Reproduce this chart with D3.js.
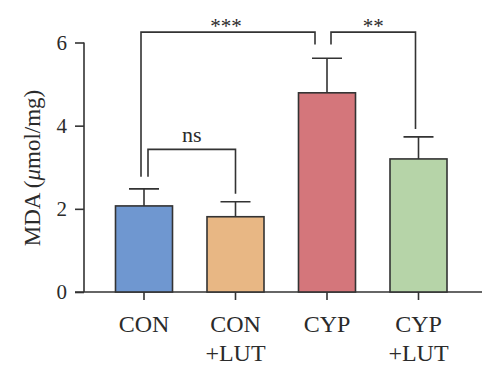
<!DOCTYPE html>
<html>
<head>
<meta charset="utf-8">
<script src="https://cdn.jsdelivr.net/npm/d3@7"></script>
<style>
  body { margin: 0; background: #fff; }
  text { font-family: "Liberation Serif", "DejaVu Serif", serif; fill: #2b2b2b; }
</style>
</head>
<body>
<div id="chart"></div>
<script>
// MDA levels per group, mean + SD (upper error only)
var groups = ["CON", "CON+LUT", "CYP", "CYP+LUT"];
var groupLines = [["CON"], ["CON", "+LUT"], ["CYP"], ["CYP", "+LUT"]];
var means = [2.07, 1.81, 4.79, 3.20];
var errors = [0.41, 0.36, 0.83, 0.53];
var barColors = ["#6f97d0", "#e8b784", "#d4767b", "#b6d4a8"];
var yTicks = [0, 2, 4, 6];

// significance brackets: [from group, to group, label, bracket height (data units)]
var brackets = [
	["CON", "CYP", "***", 6.25],
	["CON", "CON+LUT", "ns", 3.43],
	["CYP", "CYP+LUT", "**", 6.25]
];

var width = 500, height = 379;
var ink = "#333";

var svg = d3.select("#chart").append("svg")
	.attr("width", width)
	.attr("height", height);

var x = d3.scaleBand().domain(groups).range([98.25, 464.25]);
var y = d3.scaleLinear().domain([0, 6]).range([292, 42.5]);
var barW = x.bandwidth() * 0.623;
var capW = 30;

function cx(g) { return x(g) + x.bandwidth() / 2; }

// Y axis
var yAxis = svg.append("g")
	.attr("transform", "translate(84,0)")
	.call(d3.axisLeft(y).tickValues(yTicks).tickFormat(d3.format("d")).tickSize(9).tickPadding(8));
yAxis.select(".domain").attr("stroke", ink).attr("stroke-width", 1.6)
	.attr("d", "M0," + y(6) + "V" + y(0));
yAxis.selectAll(".tick line").attr("stroke", ink).attr("stroke-width", 1.6);
yAxis.selectAll(".tick text")
	.style("font-size", "21px")
	.attr("fill", "#2b2b2b");

// X axis baseline + ticks
svg.append("line")
	.attr("x1", 75).attr("x2", 482)
	.attr("y1", y(0)).attr("y2", y(0))
	.attr("stroke", ink).attr("stroke-width", 1.6);

svg.selectAll(".xtick")
	.data(groups)
	.enter()
	.append("line")
		.attr("class", "xtick")
		.attr("x1", function(d) { return cx(d); })
		.attr("x2", function(d) { return cx(d); })
		.attr("y1", y(0)).attr("y2", y(0) + 8)
		.attr("stroke", ink).attr("stroke-width", 1.6);

svg.selectAll(".xlabel")
	.data(groups)
	.enter()
	.append("text")
		.attr("class", "xlabel")
		.attr("x", function(d) { return cx(d); })
		.attr("y", 332)
		.style("font-size", "24px")
		.style("text-anchor", "middle")
		.each(function(d, i) {
			var t = d3.select(this);
			groupLines[i].forEach(function(line, j) {
				t.append("tspan")
					.attr("x", cx(d))
					.attr("dy", j == 0 ? 0 : 29)
					.text(line);
			});
		});

// Y label
var yLabel = svg.append("text")
	.attr("transform", "translate(40,168) rotate(-90)")
	.style("font-size", "23px")
	.style("text-anchor", "middle");
yLabel.append("tspan").text("MDA (");
yLabel.append("tspan").style("font-style", "italic").text("\u03bc");
yLabel.append("tspan").text("mol/mg)");

// Error bars (upper only), drawn under the bars
svg.selectAll(".err")
	.data(groups)
	.enter()
	.append("path")
		.attr("class", "err")
		.attr("d", function(d, i) {
			var top = y(means[i] + errors[i]);
			return "M" + cx(d) + "," + y(means[i]) + "V" + top +
				"M" + (cx(d) - capW / 2) + "," + top + "H" + (cx(d) + capW / 2);
		})
		.attr("fill", "none")
		.attr("stroke", ink).attr("stroke-width", 1.6);

// Bars
svg.selectAll(".bar")
	.data(groups)
	.enter()
	.append("rect")
		.attr("class", "bar")
		.attr("x", function(d) { return cx(d) - barW / 2; })
		.attr("y", function(d, i) { return y(means[i]); })
		.attr("width", barW)
		.attr("height", function(d, i) { return y(0) - y(means[i]); })
		.attr("fill", function(d, i) { return barColors[i]; })
		.attr("stroke", ink).attr("stroke-width", 1.6);

// Significance brackets
var leftShift = { "***": -3, "ns": 4, "**": 4 };
var rightShift = { "***": -12, "ns": 0, "**": -3 };
brackets.forEach(function(b) {
	var i0 = groups.indexOf(b[0]), i1 = groups.indexOf(b[1]);
	var x0 = cx(b[0]) + leftShift[b[2]];
	var x1 = cx(b[1]) + rightShift[b[2]];
	var yTop = y(b[3]);
	var y0 = y(means[i0] + errors[i0]) - 12;
	var y1 = y(means[i1] + errors[i1]) - 8;
	if (b[2] == "***") y1 = y(5.95);
	if (b[2] == "**") y0 = y(5.95);
	svg.append("path")
		.attr("d", "M" + x0 + "," + y0 + "V" + yTop + "H" + x1 + "V" + y1)
		.attr("fill", "none")
		.attr("stroke", ink).attr("stroke-width", 1.6);
	var isStars = b[2] != "ns";
	svg.append("text")
		.attr("x", (x0 + x1) / 2 + (b[2] == "***" ? -2 : 0))
		.attr("y", isStars ? yTop + 1 : yTop - 7)
		.style("font-size", isStars ? "21px" : "22px")
		.style("text-anchor", "middle")
		.text(b[2]);
});
</script>
</body>
</html>
